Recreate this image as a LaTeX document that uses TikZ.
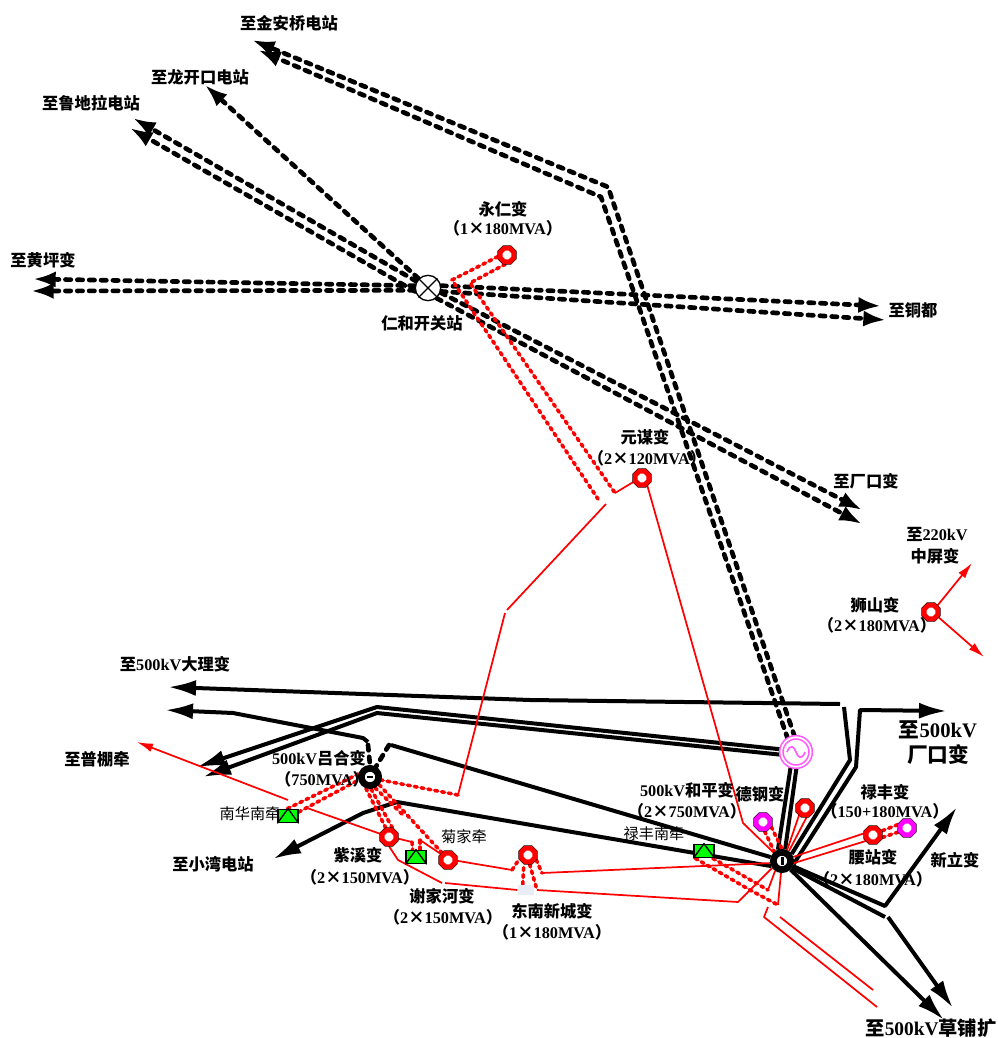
\documentclass[tikz,border=0pt]{standalone}
\usepackage{fontspec}
\setmainfont{Liberation Serif}
\newfontfamily\cjk{Noto Sans CJK SC}
\newcommand\zh[1]{{\cjk #1}}
\usetikzlibrary{arrows.meta,shapes.geometric,backgrounds}
\definecolor{myred}{RGB}{255,0,0}
\definecolor{mymag}{RGB}{255,0,255}
\definecolor{pale}{RGB}{232,236,245}
\tikzset{
  x=0.75pt,y=-0.75pt,
  lab/.style={font=\bfseries\fontsize{12.2}{14}\selectfont,inner sep=0pt,text=black},
  big/.style={font=\bfseries\fontsize{15.5}{18}\selectfont,inner sep=0pt,align=center,text=black},
  thin lab/.style={font=\fontsize{11.4}{13}\selectfont,inner sep=0pt,text=black},
  blk/.style={draw=black,line width=3pt,line join=round},
  blkd/.style={draw=black,line width=3.5pt,dash pattern=on 4pt off 4.9pt,line cap=round,line join=round},
  rd/.style={draw=myred,line width=1.3pt,line join=round},
  rdd/.style={draw=myred,line width=2.7pt,dash pattern=on 2.2pt off 3pt,line cap=round,line join=round},
  bigtip/.style={-{Latex[length=21pt,width=12pt]}},
  dtip/.style={-{Latex[length=17pt,width=12pt]}},
  rtip/.style={-{Latex[length=12pt,width=6.5pt]}},
  stn/.style={regular polygon,regular polygon sides=8,minimum size=11pt,inner sep=0pt,fill=white,
    preaction={draw=black,line width=4.3pt},draw=myred,line width=3.6pt},
  mstn/.style={stn,draw=mymag},
  hub/.style={circle,minimum size=13pt,inner sep=0pt,fill=white,draw=black,line width=5pt},
  trac/.style={rectangle,minimum width=15pt,minimum height=10pt,inner sep=0pt,fill=green,draw=black,line width=1pt},
}
\begin{document}
\begin{tikzpicture}
\useasboundingbox (0,0) rectangle (998,1038);
% stations
\node[circle,minimum size=19pt,inner sep=0pt,fill=white,draw=black,line width=1pt] (renhe) at (428,288) {};
\draw[line width=1pt] (renhe.45)--(renhe.225) (renhe.135)--(renhe.315);
\node[stn] (yongren) at (507,255) {};
\node[stn] (yuanmou) at (642,478) {};
\node[stn] (shishan) at (931,612) {};
\node[hub] (lvhe) at (370,777) {};
\node[hub] (hep) at (782,861) {};
\fill (lvhe.center) ++(-3,-1) rectangle ++(6,2);
\fill (hep.center) ++(-1,-4) rectangle ++(3,8);
\node[stn] (zixi) at (389,837) {};
\node[stn] (jujia) at (448,860) {};
\node[stn] (dongnan) at (528,855) {};
\node[stn] (yaozhan) at (873,835) {};
\node[stn] (unn) at (805,808) {};
\node[mstn] (degang) at (763,822) {};
\node[mstn] (lufeng) at (907,828) {};
\node[trac] (nanhua) at (288,816) {};
\draw[line width=1pt] (nanhua.south west)--(nanhua.north)--(nanhua.south east);
\node[trac] (xiejia) at (416,857) {};
\draw[line width=1pt] (xiejia.south west)--(xiejia.north)--(xiejia.south east);
\node[trac] (lfq) at (704,851) {};
\draw[line width=1pt] (lfq.south west)--(lfq.north)--(lfq.south east);
\node[circle,minimum size=22pt,inner sep=0pt,fill=white,draw=mymag!65,line width=1.2pt,double=white,double distance=1.3pt] (heping) at (796,752) {};
\draw[mymag!65,line width=1.2pt] (787,752) .. controls (790,744) and (794,746) .. (796,752) .. controls (798,758) and (802,760) .. (805,752);
\node[fill=pale,minimum width=12.5pt,minimum height=8pt,inner sep=0pt] (dnpad) at (526,890) {};
% free ends
\coordinate (jin1) at (252,40); \coordinate (jin2) at (258,50);
\coordinate (lkk) at (205,85);
\coordinate (ldl1) at (133,118); \coordinate (ldl2) at (130,128);
\coordinate (hp1) at (33,279); \coordinate (hp2) at (31,291);
\coordinate (td1) at (881,306); \coordinate (td2) at (886,320);
\coordinate (ck1) at (862,510); \coordinate (ck2) at (862,524);
\coordinate (dali) at (168,687); \coordinate (hw2) at (165,710);
\coordinate (dbl1) at (197,767); \coordinate (dbl2) at (203,777);
\coordinate (ck500) at (947,711);
\coordinate (xw) at (273,859);
\coordinate (xl) at (957,807);
\coordinate (cp1) at (953,1008); \coordinate (cp2) at (944,1020);
\coordinate (pp) at (137,742);
\coordinate (zp) at (972,563); \coordinate (zp2) at (984,657);
\coordinate (rend1) at (877,1007); \coordinate (rend2) at (873,990);
\coordinate (rend3) at (768,907); \coordinate (rend4) at (780,917);
\begin{scope}[on background layer]
% black dashed
\draw[blkd,dtip] (heping.95) -- (608,187) -- (jin1);
\draw[blkd,dtip] (heping.122) -- (601,197) -- (jin2);
\draw[blkd,dtip] (renhe.135) -- (lkk);
\draw[blkd,dtip] (renhe.150) -- (ldl1);
\draw[blkd,dtip] (renhe.195) -- (ldl2);
\draw[blkd,dtip] (renhe.170) -- (hp1);
\draw[blkd,dtip] (renhe.190) -- (hp2);
\draw[blkd,dtip] (renhe.10) -- (td1);
\draw[blkd,dtip] (renhe.-15) -- (td2);
\draw[blkd,dtip] (renhe.-20) -- (ck1);
\draw[blkd,dtip] (renhe.-50) -- (ck2);
% black solid
\draw[blk,bigtip] (840,704) -- (530,700) -- (dali);
\draw[blk] (844,707) -- (850,760) -- (hep.36);
\draw[blk,bigtip] (hep.-15) -- (856,767) -- (860,710) -- (ck500);
\draw[blk,bigtip] (368,742) -- (363,738) -- (233,713) -- (hw2);
\draw[blkd] (368,745) -- (lvhe.90);
\draw[blkd] (389,745) -- (lvhe.60);
\draw[blk,bigtip] (heping.170) -- (377,707) -- (dbl1);
\draw[blk,bigtip] (heping.190) -- (377,713) -- (dbl2);
\draw[blk] (heping.250) -- (hep.110);
\draw[blk] (heping.272) -- (hep.75);
\draw[blk] (391,745) -- (hep.161);
\draw[blk,bigtip] (hep.205) -- (397,802) -- (363,813) -- (xw);
\draw[blk,bigtip] (hep.-25) -- (885,906) -- (xl);
\draw[blk] (hep.-35) -- (885,917);
\draw[blk,bigtip] (888,917) -- (cp1);
\draw[blk,bigtip] (hep.-45) -- (cp2);
% red dotted and solid
\draw[rdd] (yongren.190) -- (452,280) -- (598,499);
\draw[rdd] (yongren.260) -- (470,283) -- (615,493);
\draw[rd] (615,493) -- (yuanmou.205);
\draw[rd] (606,504) -- (507,610);
\draw[rd] (505,613) -- (458,795);
\draw[rdd] (458,795) -- (lvhe.-15);
\draw[rd,line cap=round] (zixi.160) -- (307,808);
\draw[rd,rtip] (288,800) -- (pp);
\draw[rd] (yuanmou.-55) -- (743,823) -- (hep.135);
\draw[rdd] (nanhua.95) -- (lvhe.165);
\draw[rdd] (nanhua.20) -- (308,807) -- (lvhe.195);
\draw[rdd] (lvhe.-110) -- (zixi.110);
\draw[rdd] (lvhe.-85) -- (zixi.70);
\draw[rdd] (lvhe.-40) -- (jujia.130);
\draw[rdd] (lvhe.-65) -- (403,815);
\draw[rd] (zixi.-10) -- (412,842);
\draw[rdd] (412,842) -- (xiejia.115);
\draw[rdd] (420,850) -- (420,840);
\draw[rd] (420,840) -- (jujia.140);
\draw[rd] (zixi.-90) -- (398,860) -- (442,883);
\draw[rd] (445,883) -- (dnpad.180);
\draw[rd] (jujia.-5) -- (512,870);
\draw[rdd] (512,870) -- (dongnan.205);
\draw[rdd] (dnpad.120) -- (dongnan.245);
\draw[rdd] (dongnan.-30) -- (542,873);
\draw[rd] (542,873) -- (hep.190);
\draw[rdd] (dongnan.-80) -- (537,890);
\draw[rd] (537,890) -- (738,902) -- (hep.215);
\draw[rdd] (lfq.220) -- (750,890) -- (778,905);
\draw[rd] (778,905) -- (hep.265);
\draw[rdd] (lfq.-40) -- (768,890);
\draw[rd] (768,890) -- (hep.235);
\draw[rd] (rend3) -- (764,917) -- (rend1);
\draw[rd] (rend4) -- (rend2);
\draw[rdd] (degang.-80) -- (hep.130);
\draw[rdd] (degang.-30) -- (hep.90);
\draw[rd] (unn.-130) -- (hep.65);
\draw[rd] (unn.-80) -- (hep.55);
\draw[rd] (yaozhan.170) -- (hep.20);
\draw[rd] (yaozhan.-140) -- (hep.-10);
\draw[rdd] (lufeng.160) -- (yaozhan.25);
\draw[rdd] (lufeng.205) -- (yaozhan.-15);
\draw[rd,rtip] (shishan.45) -- (zp);
\draw[rd,rtip] (shishan.-35) -- (zp2);
\end{scope}
% labels
\node[lab] (t1) at (289,23) {\zh{至金安桥电站}};
\node[lab] (t2) at (200,77) {\zh{至龙开口电站}};
\node[lab] (t3) at (91,103) {\zh{至鲁地拉电站}};
\node[lab] (t4) at (43,260) {\zh{至黄坪变}};
\node[lab] (t5) at (503,209) {\zh{永仁变}};
\node[lab] (t6) at (503,228) {\zh{（}1\zh{×}180MVA\zh{）}};
\node[lab] (t7) at (913,310) {\zh{至铜都}};
\node[lab] (t8) at (422,323) {\zh{仁和开关站}};
\node[lab] (t9) at (645,437) {\zh{元谋变}};
\node[lab] (t10) at (647,458) {\zh{（}2\zh{×}120MVA\zh{）}};
\node[lab] (t11) at (866,481) {\zh{至厂口变}};
\node[lab] (t12) at (937,534) {\zh{至}220kV};
\node[lab] (t13) at (935,556) {\zh{中屏变}};
\node[lab] (t14) at (875,605) {\zh{狮山变}};
\node[lab] (t15) at (877,625) {\zh{（}2\zh{×}180MVA\zh{）}};
\node[lab] (t16) at (175,664) {\zh{至}500kV\zh{大理变}};
\node[big] (t17) at (938,730) {\zh{至}500kV};
\node[big] (t18) at (938,755) {\zh{厂口变}};
\node[lab] (t19) at (97,759) {\zh{至普棚牵}};
\node[lab] (t20) at (319,758) {500kV\zh{吕合变}};
\node[lab] (t21) at (322,779) {\zh{（}750MVA\zh{）}};
\node[thin lab] (t22) at (250,814) {\zh{南华南牵}};
\node[thin lab] (t23) at (464,837) {\zh{菊家牵}};
\node[lab] (t24) at (213,864) {\zh{至小湾电站}};
\node[lab] (t25) at (358,855) {\zh{紫溪变}};
\node[lab] (t26) at (360,877) {\zh{（}2\zh{×}150MVA\zh{）}};
\node[lab] (t27) at (442,896) {\zh{谢家河变}};
\node[lab] (t28) at (443,917) {\zh{（}2\zh{×}150MVA\zh{）}};
\node[lab] (t29) at (552,911) {\zh{东南新城变}};
\node[lab] (t30) at (552,932) {\zh{（}1\zh{×}180MVA\zh{）}};
\node[lab] (t31) at (687,790) {500kV\zh{和平变}};
\node[lab] (t32) at (687,811) {\zh{（}2\zh{×}750MVA\zh{）}};
\node[lab] (t33) at (760,794) {\zh{德钢变}};
\node[lab] (t34) at (885,792) {\zh{禄丰变}};
\node[lab] (t35) at (885,811) {\zh{（}150+180MVA\zh{）}};
\node[thin lab] (t36) at (654,834) {\zh{禄丰南牵}};
\node[lab] (t37) at (873,857) {\zh{腰站变}};
\node[lab] (t38) at (873,879) {\zh{（}2\zh{×}180MVA\zh{）}};
\node[lab] (t39) at (955,860) {\zh{新立变}};
\node[big,font=\bfseries\fontsize{14.5}{17}\selectfont] (t40) at (931,1028) {\zh{至}500kV\zh{草铺扩}};
\end{tikzpicture}
\end{document}
